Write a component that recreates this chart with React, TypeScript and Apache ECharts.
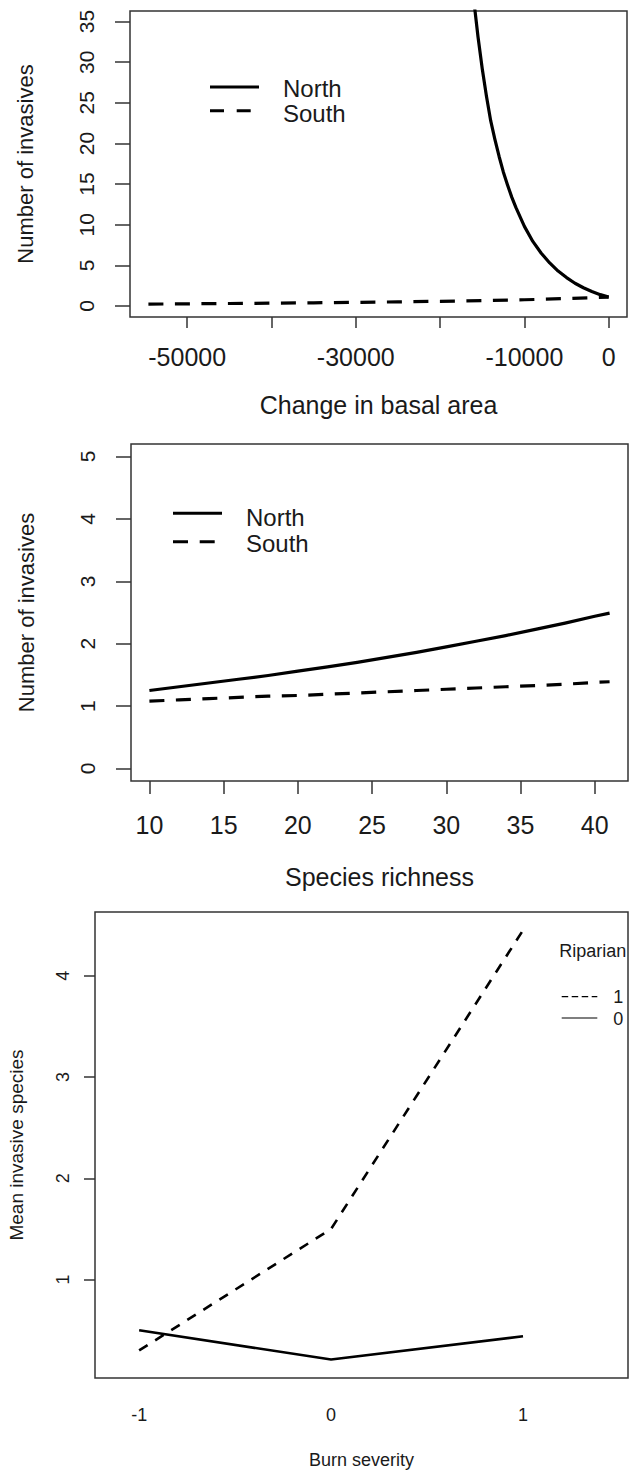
import React, { useEffect, useRef } from "react";
import * as echarts from "echarts";

// ---------- Panel 1: change in basal area ----------
const BASAL_NORTH_X = [-16500, -16000, -15500, -15000, -14500, -14000, -13500, -13000, -12500, -12000, -11500, -11000, -10000, -9000, -8000, -7000, -6000, -5000, -4000, -3000, -2000, -1000, 0];
const BASAL_NORTH_Y = [42, 37.6, 33.1, 29.2, 25.8, 22.8, 20.5, 18.4, 16.5, 14.9, 13.4, 12.1, 9.8, 7.95, 6.5, 5.3, 4.3, 3.5, 2.8, 2.25, 1.78, 1.4, 1.12];
const BASAL_SOUTH_X = [-54600, -50000, -45000, -40000, -35000, -30000, -25000, -20000, -15000, -10000, -5000, 0];
const BASAL_SOUTH_Y = [0.24, 0.27, 0.31, 0.35, 0.4, 0.45, 0.51, 0.58, 0.67, 0.77, 0.92, 1.1];
const BASAL_TICKS = [-50000, -40000, -30000, -20000, -10000, 0];
const BASAL_LABELS = [-50000, -30000, -10000, 0];
const COUNT1_TICKS = [0, 5, 10, 15, 20, 25, 30, 35];

// ---------- Panel 2: species richness ----------
const RICH_X = [10, 12, 14, 16, 18, 20, 22, 24, 26, 28, 30, 32, 34, 36, 38, 40, 41];
const RICH_NORTH = [1.25, 1.31, 1.37, 1.43, 1.49, 1.56, 1.63, 1.7, 1.78, 1.86, 1.95, 2.04, 2.13, 2.23, 2.33, 2.44, 2.49];
const RICH_SOUTH = [1.08, 1.1, 1.12, 1.14, 1.16, 1.17, 1.19, 1.21, 1.23, 1.25, 1.27, 1.29, 1.31, 1.33, 1.35, 1.38, 1.39];
const RICH_TICKS = [10, 15, 20, 25, 30, 35, 40];
const COUNT2_TICKS = [0, 1, 2, 3, 4, 5];

// ---------- Panel 3: burn severity ----------
const BURN_LEVELS = [-1, 0, 1];
const RIPARIAN_1 = [0.3, 1.5, 4.45];
const RIPARIAN_0 = [0.5, 0.21, 0.44];
const MEAN_TICKS = [1, 2, 3, 4];

const FONT = "'Liberation Sans', Arial, sans-serif";
const TXT = "#1a1a1a";
const BOX = "#333333";

const pairs = (xs: number[], ys: number[]) => xs.map((x, i) => [x, ys[i]]);

function xAxisDef(o: any) {
  return {
    type: "value",
    gridIndex: o.grid,
    min: o.min,
    max: o.max,
    axisLine: { show: false, onZero: false },
    splitLine: { show: false },
    axisTick: {
      show: o.tickLen > 0,
      length: o.tickLen,
      customValues: o.ticks,
      lineStyle: { color: BOX, width: 1.5 },
    },
    axisLabel: {
      customValues: o.labels,
      margin: o.labelMargin,
      fontSize: o.fs,
      fontFamily: FONT,
      color: TXT,
      formatter: (v: number) => String(v),
    },
    name: o.name,
    nameLocation: "middle",
    nameGap: o.nameGap,
    nameTextStyle: { fontSize: o.nameFs, fontFamily: FONT, color: TXT },
  };
}

function yAxisDef(o: any) {
  return {
    type: "value",
    gridIndex: o.grid,
    position: "left",
    min: o.min,
    max: o.max,
    axisLine: { show: false, onZero: false },
    splitLine: { show: false },
    axisTick: {
      show: true,
      length: o.tickLen,
      customValues: o.ticks,
      lineStyle: { color: BOX, width: 1.5 },
    },
    axisLabel: {
      customValues: o.ticks,
      rotate: 90,
      margin: o.labelMargin,
      fontSize: o.fs,
      fontFamily: FONT,
      color: TXT,
      formatter: (v: number) => String(v),
    },
    name: o.name,
    nameLocation: "middle",
    nameGap: o.nameGap,
    nameTextStyle: { fontSize: o.nameFs, fontFamily: FONT, color: TXT },
  };
}

function lineSeries(xi: number, data: number[][], width: number, dash: any) {
  return {
    type: "line",
    xAxisIndex: xi,
    yAxisIndex: xi,
    data,
    symbol: "none",
    smooth: false,
    silent: true,
    clip: true,
    lineStyle: { color: "#000", width, type: dash, cap: "butt", join: "round" },
  };
}

function legendText(text: string, x: number, y: number, fs: number) {
  return {
    type: "text",
    x,
    y,
    silent: true,
    style: {
      text,
      fontSize: fs,
      fontFamily: FONT,
      fill: TXT,
      align: "left",
      verticalAlign: "middle",
    },
  };
}

function legendLine(x1: number, x2: number, y: number, w: number, dash?: number[]) {
  const style: any = { stroke: "#000", lineWidth: w, lineCap: "butt" };
  if (dash) style.lineDash = dash;
  return { type: "line", silent: true, shape: { x1, y1: y, x2, y2: y }, style };
}

export default function App() {
  const ref = useRef<HTMLDivElement>(null);

  useEffect(() => {
    if (!ref.current) return;
    const chart = echarts.init(ref.current, undefined, { renderer: "svg" });
    const gridBase = {
      show: true,
      borderColor: BOX,
      borderWidth: 1.5,
      backgroundColor: "transparent",
      containLabel: false,
      outerBoundsMode: "none",
    };
    chart.setOption({
      animation: false,
      backgroundColor: "#ffffff",
      grid: [
        { ...gridBase, left: 130, top: 11, width: 497, height: 306 },
        { ...gridBase, left: 131, top: 444, width: 497, height: 337 },
        { ...gridBase, left: 95, top: 912, width: 533, height: 466 },
      ],
      xAxis: [
        xAxisDef({
          grid: 0, min: -56784, max: 2171, ticks: BASAL_TICKS, labels: BASAL_LABELS,
          tickLen: 11, labelMargin: 27, fs: 25, name: "Change in basal area", nameGap: 75, nameFs: 25,
        }),
        xAxisDef({
          grid: 1, min: 8.76, max: 42.24, ticks: RICH_TICKS, labels: RICH_TICKS,
          tickLen: 13, labelMargin: 31, fs: 25, name: "Species richness", nameGap: 83, nameFs: 25,
        }),
        xAxisDef({
          grid: 2, min: -1.23, max: 1.547, ticks: BURN_LEVELS, labels: BURN_LEVELS,
          tickLen: 0, labelMargin: 28, fs: 18, name: "Burn severity", nameGap: 73, nameFs: 18,
        }),
      ],
      yAxis: [
        yAxisDef({
          grid: 0, min: -1.35, max: 36.3, ticks: COUNT1_TICKS,
          tickLen: 15, labelMargin: 33, fs: 21, name: "Number of invasives", nameGap: 94, nameFs: 22,
        }),
        yAxisDef({
          grid: 1, min: -0.2, max: 5.2, ticks: COUNT2_TICKS,
          tickLen: 15, labelMargin: 33, fs: 21, name: "Number of invasives", nameGap: 94, nameFs: 22,
        }),
        yAxisDef({
          grid: 2, min: 0.028, max: 4.63, ticks: MEAN_TICKS,
          tickLen: 11, labelMargin: 23, fs: 18, name: "Mean invasive species", nameGap: 69, nameFs: 19,
        }),
      ],
      series: [
        lineSeries(0, pairs(BASAL_NORTH_X, BASAL_NORTH_Y), 3.2, "solid"),
        lineSeries(0, pairs(BASAL_SOUTH_X, BASAL_SOUTH_Y), 3.2, [15, 11.5]),
        lineSeries(1, pairs(RICH_X, RICH_NORTH), 3.2, "solid"),
        lineSeries(1, pairs(RICH_X, RICH_SOUTH), 3.2, [15, 11.5]),
        lineSeries(2, pairs(BURN_LEVELS, RIPARIAN_1), 2.6, [10, 9]),
        lineSeries(2, pairs(BURN_LEVELS, RIPARIAN_0), 2.6, "solid"),
      ],
      graphic: [
        legendLine(210, 259, 87, 3),
        legendLine(210, 259, 110.7, 3, [14, 12.7]),
        legendText("North", 283, 88.5, 24),
        legendText("South", 283, 113, 24),

        legendLine(173, 222, 513.3, 3),
        legendLine(173, 222, 541.7, 3, [15, 11.7]),
        legendText("North", 246, 517.3, 24),
        legendText("South", 246, 543.3, 24),

        legendText("Riparian", 559.3, 951, 18),
        legendLine(561.7, 597.3, 996.7, 1.2, [6.5, 3.5]),
        legendLine(561.7, 597.3, 1018, 1.2),
        legendText("1", 613.3, 997.3, 18),
        legendText("0", 613.3, 1019, 18),
      ],
    });
    return () => chart.dispose();
  }, []);

  return (
    <div
      ref={ref}
      style={{ position: "absolute", left: 0, top: 0, width: 632, height: 1474, background: "#fff" }}
    />
  );
}
